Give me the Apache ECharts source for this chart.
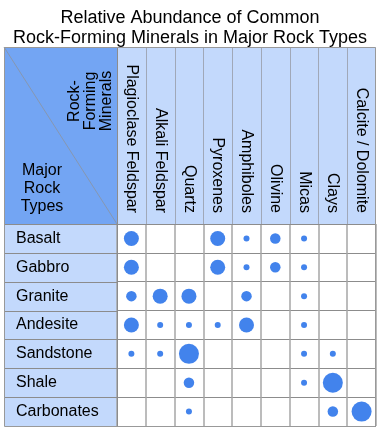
<!DOCTYPE html>
<html>
<head>
<meta charset="utf-8">
<script src="https://cdn.jsdelivr.net/npm/echarts@6/dist/echarts.min.js"></script>
<style>html,body{margin:0;padding:0;background:#fff}#c{width:380px;height:431px}</style>
</head>
<body>
<div id="c"></div>
<script>
// ---- data ----
var titleText = 'Relative Abundance of Common\nRock-Forming Minerals in Major Rock Types';
var minerals = ['Plagioclase Feldspar', 'Alkali Feldspar', 'Quartz', 'Pyroxenes', 'Amphiboles', 'Olivine', 'Micas', 'Clays', 'Calcite / Dolomite'];
var rockTypes = ['Basalt', 'Gabbro', 'Granite', 'Andesite', 'Sandstone', 'Shale', 'Carbonates'];
// abundance level per mineral (0 = none, 1 = minor ... 4 = dominant)
var basalt     = [3, 0, 0, 3, 1, 2, 1, 0, 0];
var gabbro     = [3, 0, 0, 3, 1, 2, 1, 0, 0];
var granite    = [2, 3, 3, 0, 2, 0, 1, 0, 0];
var andesite   = [3, 1, 1, 1, 3, 0, 1, 0, 0];
var sandstone  = [1, 1, 4, 0, 0, 0, 1, 1, 0];
var shale      = [0, 0, 2, 0, 0, 0, 1, 4, 0];
var carbonates = [0, 0, 1, 0, 0, 0, 0, 2, 4];
var abundance = [basalt, gabbro, granite, andesite, sandstone, shale, carbonates];

// ---- style ----
var sizeByLevel = [0, 6, 10.5, 15, 20];
var FONT = 'Liberation Sans, Arial, sans-serif';
var LIGHT = '#c3d9fc', DARK = '#73a5f3', LINE = '#8c8c8c', BUBBLE = '#4283ec';
var G = {left: 117, top: 224, right: 376, bottom: 426};
var tableTop = 47, tableLeft = 4;

var points = [];
abundance.forEach(function (row, r) {
  row.forEach(function (lvl, c) {
    if (lvl > 0) points.push([c, r, lvl]);
  });
});

var colW = (G.right - G.left) / minerals.length;
var rowH = (G.bottom - G.top) / rockTypes.length;
var graphics = [
  {type: 'rect', z: -1, shape: {x: G.left, y: tableTop, width: G.right - G.left, height: G.top - tableTop}, style: {fill: LIGHT}},
  {type: 'rect', z: -1, shape: {x: tableLeft, y: G.top, width: G.left - tableLeft, height: G.bottom - G.top}, style: {fill: LIGHT}},
  {type: 'rect', z: -1, shape: {x: tableLeft, y: tableTop, width: G.left - tableLeft, height: G.top - tableTop}, style: {fill: DARK}},
  {type: 'line', z: 5, shape: {x1: tableLeft, y1: tableTop, x2: G.left, y2: G.top}, style: {stroke: '#8797b0', lineWidth: 1}},
  {type: 'text', z: 10, x: 42, y: 189, style: {text: 'Major\nRock\nTypes', font: '16px ' + FONT, fill: '#000', align: 'center', verticalAlign: 'middle', lineHeight: 18}},
  {type: 'text', z: 10, x: 91, y: 101, rotation: Math.PI / 2, style: {text: 'Rock-\nForming\nMinerals', font: '16px ' + FONT, fill: '#000', align: 'center', verticalAlign: 'middle', lineHeight: 16}}
];
for (var i = 1; i < minerals.length; i++) {
  var x = Math.round(G.left + i * colW) + 0.5;
  graphics.push({type: 'line', z: 5, shape: {x1: x, y1: tableTop, x2: x, y2: G.top}, style: {stroke: '#a0a8b8', lineWidth: 1}});
}
for (var j = 1; j < rockTypes.length; j++) {
  var y = Math.round(G.top + j * rowH) + 0.5;
  graphics.push({type: 'line', z: 5, shape: {x1: tableLeft, y1: y, x2: G.left, y2: y}, style: {stroke: LINE, lineWidth: 1}});
}
graphics.push({type: 'line', z: 6, shape: {x1: G.left + 0.5, y1: tableTop, x2: G.left + 0.5, y2: G.bottom}, style: {stroke: LINE, lineWidth: 1}});
graphics.push({type: 'line', z: 6, shape: {x1: tableLeft, y1: G.top + 0.5, x2: G.right, y2: G.top + 0.5}, style: {stroke: LINE, lineWidth: 1}});
graphics.push({type: 'rect', z: 6, shape: {x: tableLeft + 0.5, y: tableTop + 0.5, width: G.right - tableLeft - 1, height: G.bottom - tableTop}, style: {fill: 'none', stroke: '#999', lineWidth: 1}});

var chart = echarts.init(document.getElementById('c'), null, {renderer: 'canvas'});
chart.setOption({
  animation: false,
  backgroundColor: '#fff',
  title: {text: titleText, left: 'center', top: 3, textStyle: {fontFamily: FONT, fontSize: 18, fontWeight: 'normal', color: '#000', lineHeight: 20}},
  grid: {left: G.left, top: G.top, right: 380 - G.right, bottom: 431 - G.bottom},
  xAxis: {
    type: 'category', data: minerals, position: 'top',
    axisLine: {show: false}, axisTick: {show: false},
    axisLabel: {rotate: 90, margin: 11, interval: 0, fontFamily: FONT, fontSize: 16, color: '#000'},
    splitLine: {show: true, interval: 0, lineStyle: {color: '#a6a6a6', width: 1.5}}
  },
  yAxis: {
    type: 'category', data: rockTypes, inverse: true,
    axisLine: {show: false}, axisTick: {show: false},
    axisLabel: {align: 'left', margin: 101, interval: 0, fontFamily: FONT, fontSize: 16, color: '#000'},
    splitLine: {show: true, interval: 0, lineStyle: {color: LINE, width: 1}}
  },
  series: [{
    type: 'scatter',
    data: points,
    symbolSize: function (v) { return sizeByLevel[v[2]]; },
    itemStyle: {color: BUBBLE, opacity: 1}
  }],
  graphic: graphics
});
</script>
</body>
</html>
